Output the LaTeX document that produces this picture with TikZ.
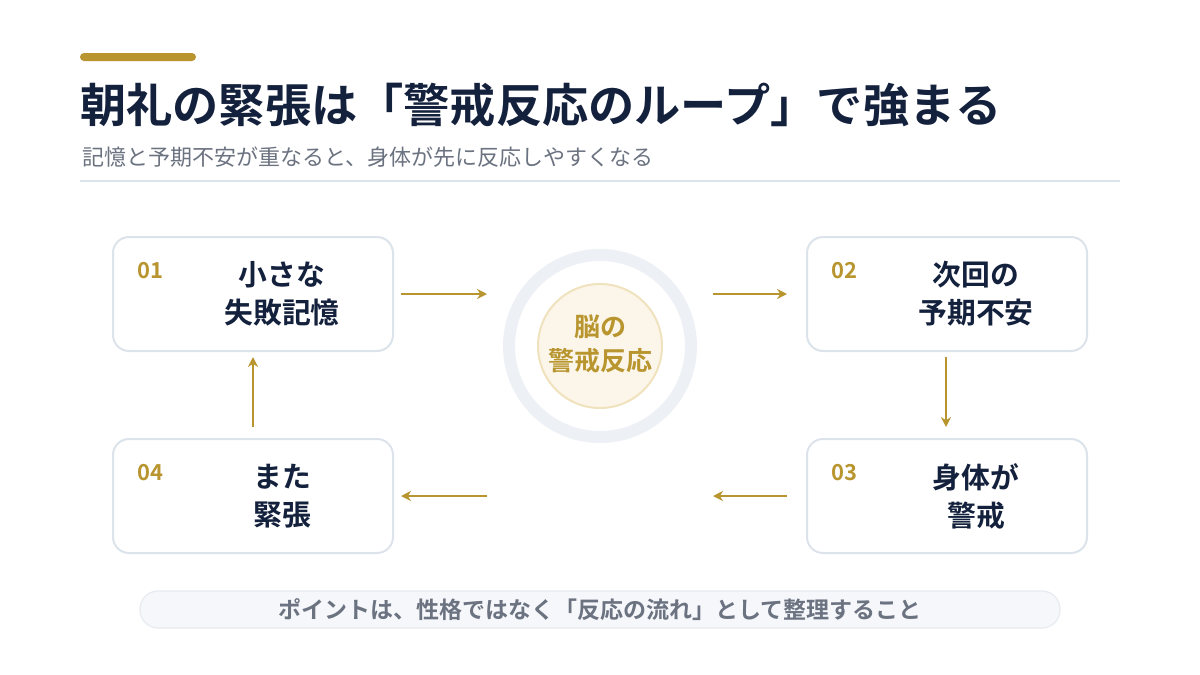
\documentclass[tikz,border=0pt]{standalone}
\usepackage{fontspec}
\setmainfont{Noto Sans CJK JP}
\newfontfamily\jpb{Noto Sans CJK JP Bold}
\definecolor{navy}{HTML}{14213D}
\definecolor{gold}{HTML}{B8952F}
\definecolor{gtext}{HTML}{6B7280}
\definecolor{lineg}{HTML}{DDE3EA}
\definecolor{ringg}{HTML}{EDF1F5}
\definecolor{cream}{HTML}{FBF6E9}
\definecolor{creamb}{HTML}{EFE2BC}
\definecolor{pill}{HTML}{F5F7FB}
\tikzset{
 stepbox/.style={draw=lineg,line width=1pt,fill=white,rounded corners=8pt,minimum width=140pt,minimum height=57pt},
 num/.style={text=gold,font=\jpb\fontsize{11}{12}\selectfont,anchor=west},
 lbl/.style={text=navy,font=\jpb\fontsize{14.4}{19}\selectfont,align=center},
 arr/.style={draw=gold,line width=1pt,-{Stealth[length=5pt,width=5pt]}}
}
\usetikzlibrary{arrows.meta}
\begin{document}
\begin{tikzpicture}[x=0.5pt,y=-0.5pt]
\useasboundingbox[fill=white] (0,0) rectangle (1200,675);
\fill[gold,rounded corners=2pt] (80,53) rectangle (196,61);
\node[anchor=west,text=navy,font=\jpb\fontsize{23.1}{25}\selectfont,inner sep=0] (title) at (80,105) {朝礼の緊張は「警戒反応のループ」で強まる};
\node[anchor=west,text=gtext,font=\fontsize{11}{13}\selectfont,inner sep=0] (sub) at (82,157) {記憶と予期不安が重なると、身体が先に反応しやすくなる};
\draw[lineg,line width=1pt] (80,181) -- (1120,181);
% boxes
\node[stepbox] (b1) at (253,294) {};
\node[stepbox] (b2) at (947,294) {};
\node[stepbox] (b4) at (253,496) {};
\node[stepbox] (b3) at (947,496) {};
\node[num] at (130,271) {01};
\node[num] at (824,271) {02};
\node[num] at (130,473) {04};
\node[num] at (824,473) {03};
\node[lbl] at (282,294) {小さな\\失敗記憶};
\node[lbl] at (976,294) {次回の\\予期不安};
\node[lbl] at (282,496) {また\\緊張};
\node[lbl] at (976,496) {身体が\\警戒};
% center
\draw[ringg,line width=6pt] (600,346) circle (91);
\node[circle,fill=cream,draw=creamb,line width=1pt,minimum size=62pt,inner sep=0] (c) at (600,346) {};
\node[text=gold,font=\jpb\fontsize{13}{17}\selectfont,align=center] at (600,344) {脳の\\警戒反応};
% arrows
\coordinate (a1s) at (401,294); \coordinate (a1e) at (487,294);
\coordinate (a2s) at (713,294); \coordinate (a2e) at (787,294);
\coordinate (a3s) at (946,357); \coordinate (a3e) at (946,427);
\coordinate (a4s) at (787,496); \coordinate (a4e) at (713,496);
\coordinate (a5s) at (487,496); \coordinate (a5e) at (401,496);
\coordinate (a6s) at (253,427); \coordinate (a6e) at (253,357);
\draw[arr] (a1s) -- (a1e);
\draw[arr] (a2s) -- (a2e);
\draw[arr] (a3s) -- (a3e);
\draw[arr] (a4s) -- (a4e);
\draw[arr] (a5s) -- (a5e);
\draw[arr] (a6s) -- (a6e);
% pill
\draw[fill=pill,draw=lineg!70,line width=0.6pt,rounded corners=9pt] (140,591) rectangle (1060,628);
\node[text=gtext,font=\jpb\fontsize{11.5}{13}\selectfont] (note) at (600,609.5) {ポイントは、性格ではなく「反応の流れ」として整理すること};
\end{tikzpicture}
\end{document}
